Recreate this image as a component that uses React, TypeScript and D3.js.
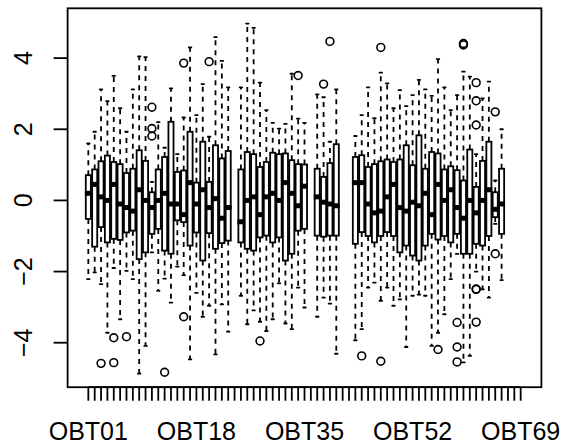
import React from 'react';
import * as d3 from 'd3';

// ---- data ----
const categories: string[] = d3.range(1, 70).map((i) => `OBT${String(i).padStart(2, '0')}`);
const shownLabels = ['OBT01', 'OBT18', 'OBT35', 'OBT52', 'OBT69'];
const yTicks = [-4, -2, 0, 2, 4];

type N = number | null;
const lowerWhisker: N[] = [
  -2.21, -2.02, -2.35, -3.72, -1.9, -3.34, -1.98, -2.21, -4.87, -4.09,
  -1.46, -2.54, -2.2, -2.87, -1.86, -2.1, -4.47, -2.6, -3.27, -2.96,
  -4.33, -2.92, -3.69, null, -2.68, -3.48, -3.09, -3.41, -3.67, -3.34,
  -2.33, -3.46, -3.62, -2.45, -3.01, null, -3.27, -2.73, -2.9, -4.31,
  null, null, -3.93, -3.62, -2.45, -2.31, -2.82, -2.45, -2.96, -2.78,
  -4.12, -2.68, -2.65, -2.68, -4.09, -3.72, -3.2, -2.21, -1.5, -4.55,
  -4.37, -2.0, -2.5, -2.73, -0.66, -2.24, null, null, null,
];
const lowerHinge: N[] = [
  -0.52, -1.3, -0.75, -1.18, -1.08, -1.11, -0.9, -0.85, -1.65, -1.46,
  -0.94, -0.8, -1.41, -1.5, -0.56, -0.61, -1.27, -0.9, -1.69, -0.92,
  -1.36, -1.2, -1.13, null, -1.18, -1.36, -1.41, -1.04, -0.99, -1.18,
  -1.04, -1.69, -1.5, -0.85, -0.8, null, -0.99, -1.02, -0.99, -0.99,
  null, null, -1.22, -0.89, -1.0, -1.18, -1.0, -0.89, -1.0, -1.46,
  -1.27, -1.55, -1.69, -1.27, -0.94, -1.1, -1.0, -1.18, -0.94, -1.5,
  -1.5, -1.22, -1.27, -1.0, -0.47, -0.94, null, null, null,
];
const medians: N[] = [
  0.2, 0.45, 0.1, 0.0, 0.45, -0.1, -0.2, -0.3, 0.3, 0.0,
  -0.2, 0.0, 0.2, -0.1, -0.1, -0.4, 0.5, -0.1, 0.3, -0.2,
  0.05, -0.5, -0.2, null, -0.6, 0.0, 0.1, -0.4, 0.1, 0.2,
  0.0, 0.5, 0.2, -0.15, 0.4, null, 0.1, -0.05, -0.1, -0.15,
  null, null, 0.5, 0.5, -0.1, -0.35, -0.3, 0.1, 0.45, -0.2,
  -0.3, -0.05, -0.15, 0.2, -0.4, 0.45, 0.0, 0.3, -0.2, -0.5,
  0.0, -0.35, 0.0, 0.3, -0.25, -0.1, null, null, null,
];
const upperHinge: N[] = [
  0.71, 0.87, 1.1, 1.26, 1.08, 1.02, 0.77, 0.89, 1.41, 1.11,
  0.23, 0.87, 1.22, 2.21, 0.8, 0.84, 1.93, 0.5, 1.65, 0.52,
  1.55, 1.18, 1.39, null, 0.87, 1.36, 1.3, 0.94, 1.08, 1.34,
  1.3, 1.32, 1.13, 1.02, 1.01, null, 0.89, 0.66, 1.05, 1.58,
  null, null, 1.22, 1.27, 0.94, 1.02, 1.1, 1.15, 1.08, 1.15,
  1.55, 0.99, 1.83, 0.89, 1.36, 1.32, 0.87, 0.96, 0.85, 0.56,
  1.43, 0.38, 1.11, 1.65, 0.23, 0.89, null, null, null,
];
const upperWhisker: N[] = [
  1.6, 1.93, 3.12, 2.79, 3.5, 2.59, 1.93, 3.12, 4.05, 4.03,
  0.52, 2.2, 1.48, 3.15, 1.3, 2.33, 4.3, 2.4, 3.27, 1.79,
  4.59, 3.92, 3.18, null, 3.18, 4.97, 4.85, 3.31, 2.54, 2.18,
  2.02, 2.15, 3.56, 2.3, 2.18, null, 2.98, 2.9, 1.65, 3.12,
  null, null, 1.81, 2.4, 3.18, 2.31, 3.59, 3.29, 2.59, 3.1,
  2.65, 2.96, 3.39, 3.12, 2.94, 3.97, 3.18, 2.54, 2.96, 3.62,
  3.48, 1.3, 2.87, 3.34, 0.56, 2.0, null, null, null,
];
const outliers: number[][] = [
  [], [], [-4.58], [], [-3.86, -4.56], [], [-3.83], [], [], [],
  [2.62, 2.02, 1.81], [], [-4.83], [], [], [3.86, -3.27], [], [], [], [3.9],
  [], [], [], [], [], [], [], [-3.95], [], [],
  [], [], [], [3.51], [], [], [], [3.27], [4.47], [],
  [], [], [], [-4.37], [], [], [4.3, -4.52], [], [], [],
  [], [], [], [], [], [-4.19], [], [], [-3.43, -4.12, -4.54], [4.41, 4.37],
  [], [3.31, 2.8, 2.12, -2.49, -2.5, -3.42], [], [], [2.49, -1.5], [], [], [], [],
];

// ---- layout ----
const W = 565;
const H = 446;
const left = 67.6;
const right = 541.4;
const top = 8.3;
const bottom = 387.2;
const n = categories.length;
const FONT = '"Liberation Sans", Arial, Helvetica, sans-serif';
const FS = 25;

export default function App() {
  const x = d3
    .scaleLinear()
    .domain([0.5 - 0.04 * n, n + 0.5 + 0.04 * n])
    .range([left, right]);
  const y = d3.scaleLinear().domain([-5.25, 5.4]).range([bottom, top]);
  const bw = x(1.4) - x(1); // half box width
  const sw = x(1.2) - x(1); // half staple width
  const lw = 1.8;

  return (
    <svg
      width={W}
      height={H}
      style={{ position: 'absolute', left: 0, top: 0, background: '#fff' }}
    >
      <rect x={0} y={0} width={W} height={H} fill="#fff" />
      {categories.map((c, i) => {
        const q1 = lowerHinge[i];
        const q3 = upperHinge[i];
        const md = medians[i];
        const lo = lowerWhisker[i];
        const hi = upperWhisker[i];
        if (q1 == null || q3 == null || md == null || lo == null || hi == null) return null;
        const cx = x(i + 1);
        return (
          <g key={c}>
            <line x1={cx} x2={cx} y1={y(q3)} y2={y(hi)} stroke="#000" strokeWidth={lw}
              strokeDasharray="5,5" />
            <line x1={cx} x2={cx} y1={y(q1)} y2={y(lo)} stroke="#000" strokeWidth={lw}
              strokeDasharray="5,5" />
            <line x1={cx - sw} x2={cx + sw} y1={y(hi)} y2={y(hi)} stroke="#000" strokeWidth={lw}
              strokeLinecap="round" />
            <line x1={cx - sw} x2={cx + sw} y1={y(lo)} y2={y(lo)} stroke="#000" strokeWidth={lw}
              strokeLinecap="round" />
            <rect x={cx - bw} y={y(q3)} width={2 * bw} height={y(q1) - y(q3)} fill="#fff"
              stroke="#000" strokeWidth={lw} />
            <line x1={cx - bw - 0.9} x2={cx + bw + 0.9} y1={y(md)} y2={y(md)} stroke="#000"
              strokeWidth={5} />
            {outliers[i].map((v, k) => (
              <circle key={k} cx={cx} cy={y(v)} r={3.9} fill="none" stroke="#000" strokeWidth={1.6} />
            ))}
          </g>
        );
      })}
      {/* frame */}
      <rect x={left} y={top} width={right - left} height={bottom - top} fill="none" stroke="#000"
        strokeWidth={lw} />
      {/* y axis */}
      {yTicks.map((t) => (
        <g key={t}>
          <line x1={left - 14} x2={left} y1={y(t)} y2={y(t)} stroke="#000" strokeWidth={lw} />
          <text
            transform={`translate(32,${y(t)}) rotate(-90)`}
            textAnchor="middle"
            fontFamily={FONT}
            fontSize={FS}
          >
            {t < 0 ? `\u2212${Math.abs(t)}` : `${t}`}
          </text>
        </g>
      ))}
      {/* x axis */}
      <line x1={x(1)} x2={x(n)} y1={bottom} y2={bottom} stroke="#000" strokeWidth={lw} />
      {categories.map((c, i) => (
        <line key={c} x1={x(i + 1)} x2={x(i + 1)} y1={bottom} y2={bottom + 13.5} stroke="#000"
          strokeWidth={lw} />
      ))}
      {categories.map((c, i) =>
        shownLabels.includes(c) ? (
          <text key={c} x={x(i + 1)} y={440} textAnchor="middle" fontFamily={FONT} fontSize={FS}>
            {c}
          </text>
        ) : null
      )}
    </svg>
  );
}
